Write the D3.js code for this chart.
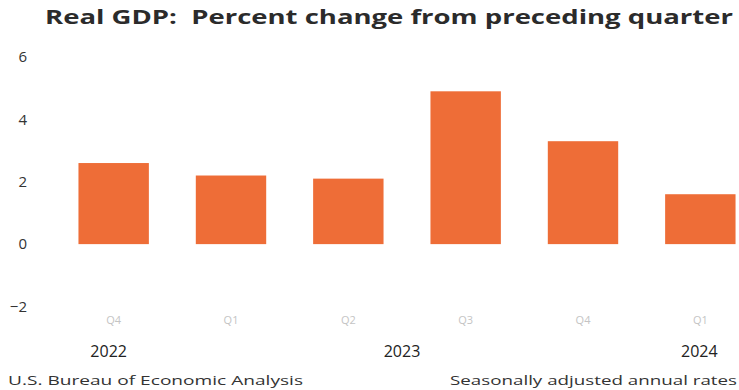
<!DOCTYPE html>
<html>
<head>
<meta charset="utf-8">
<script src="https://cdn.jsdelivr.net/npm/d3@7"></script>
<style>
  body { margin: 0; background: #fff; }
  text { font-family: 'Open Sans', sans-serif; }
</style>
</head>
<body>
<svg width="739" height="390"></svg>
<script>
const titleText = 'Real GDP:  Percent change from preceding quarter';
const sourceText = 'U.S. Bureau of Economic Analysis';
const noteText = 'Seasonally adjusted annual rates';

const quarters = ['Q4 2022', 'Q1 2023', 'Q2 2023', 'Q3 2023', 'Q4 2023', 'Q1 2024'];
const quarterLabels = ['Q4', 'Q1', 'Q2', 'Q3', 'Q4', 'Q1'];
const gdpChange = [2.6, 2.2, 2.1, 4.9, 3.3, 1.6];
const yearLabels = ['2022', '2023', '2024'];
const yearAt = [0, 2.5, 5]; // band index where each year label sits
const yTicks = [-2, 0, 2, 4, 6];

const svg = d3.select('svg');
const width = +svg.attr('width');
const height = +svg.attr('height');

const barColor = '#ee6d37';

const xScale = d3.scaleBand()
  .domain(quarters)
  .range([55, 759])
  .paddingInner(0.4)
  .paddingOuter(0.2);

const yScale = d3.scaleLinear()
  .domain([-2, 6])
  .range([306.5, 57]);

// title
svg.append('text')
    .attr('x', 389)
    .attr('y', 24)
    .attr('text-anchor', 'middle')
    .attr('font-size', 19)
    .attr('font-weight', 'bold')
    .attr('fill', '#2b2b2b')
    .attr('textLength', 688)
    .attr('lengthAdjust', 'spacingAndGlyphs')
    .style('white-space', 'pre')
    .text(titleText);

// y axis, labels only
const yAxis = d3.axisLeft(yScale)
  .tickValues(yTicks)
  .tickSize(0)
  .tickPadding(3)
  .tickFormat(d3.format('d'));

const yAxisG = svg.append('g')
    .attr('transform', 'translate(30,0)')
    .call(yAxis);
yAxisG.select('.domain').remove();
yAxisG.selectAll('text')
    .attr('font-family', "'Open Sans', sans-serif")
    .attr('font-size', 15)
    .attr('fill', '#333');

// bars
svg.selectAll('rect.bar').data(gdpChange)
  .enter().append('rect')
    .attr('class', 'bar')
    .attr('x', (d, i) => xScale(quarters[i]))
    .attr('width', xScale.bandwidth())
    .attr('y', d => yScale(Math.max(0, d)))
    .attr('height', d => Math.abs(yScale(d) - yScale(0)))
    .attr('fill', barColor);

// quarter labels
const xAxis = d3.axisBottom(xScale)
  .tickSize(0)
  .tickPadding(4)
  .tickFormat((d, i) => quarterLabels[i]);

const xAxisG = svg.append('g')
    .attr('transform', 'translate(0,312)')
    .call(xAxis);
xAxisG.select('.domain').remove();
xAxisG.selectAll('text')
    .attr('font-family', "'DejaVu Serif', serif")
    .attr('font-size', 11)
    .attr('fill', '#c4c4c4');

// year labels
const step = xScale.step();
const firstCenter = xScale(quarters[0]) + xScale.bandwidth() / 2;
svg.selectAll('text.year').data(yearLabels)
  .enter().append('text')
    .attr('class', 'year')
    .attr('x', (d, i) => firstCenter + yearAt[i] * step - (i === 2 ? 1 : 5))
    .attr('y', 357)
    .attr('text-anchor', 'middle')
    .attr('font-size', 16)
    .attr('fill', '#222')
    .text(d => d);

// footer
svg.append('text')
    .attr('x', 8)
    .attr('y', 385)
    .attr('font-size', 13)
    .attr('fill', '#333')
    .attr('textLength', 295)
    .attr('lengthAdjust', 'spacingAndGlyphs')
    .text(sourceText);

svg.append('text')
    .attr('x', 450)
    .attr('y', 385)
    .attr('font-size', 13)
    .attr('fill', '#333')
    .attr('textLength', 287)
    .attr('lengthAdjust', 'spacingAndGlyphs')
    .text(noteText);
</script>
</body>
</html>
